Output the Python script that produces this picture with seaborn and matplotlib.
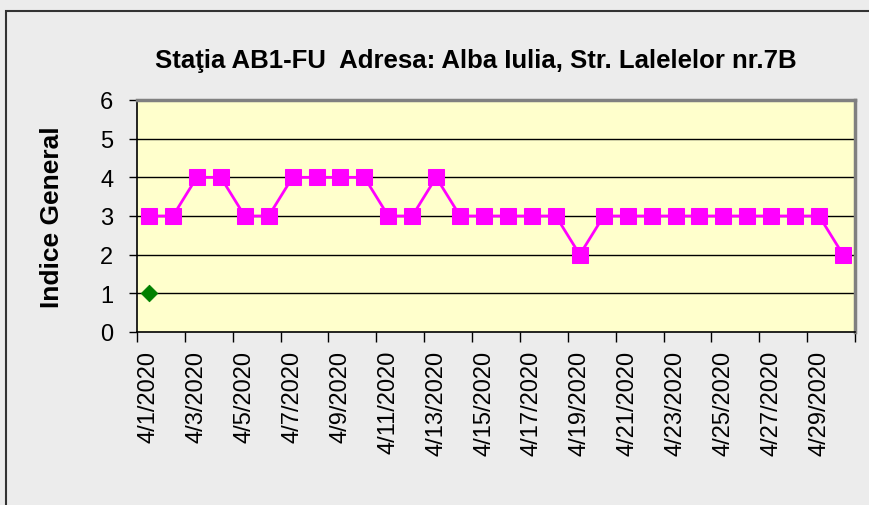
import matplotlib
matplotlib.use("Agg")
import matplotlib.pyplot as plt
import seaborn as sns
import pandas as pd
import numpy as np
from matplotlib.patches import Rectangle

dates = [f"4/{d}/2020" for d in range(1, 31)]
indice_general = [3, 3, 4, 4, 3, 3, 4, 4, 4, 4, 3, 3, 4, 3, 3, 3, 3, 3, 2, 3,
                  3, 3, 3, 3, 3, 3, 3, 3, 3, 2]
second_dates = ["4/1/2020"]
second_values = [1]
title = "Staţia AB1-FU  Adresa: Alba Iulia, Str. Lalelelor nr.7B"
ylabel = "Indice General"
yticks = [0, 1, 2, 3, 4, 5, 6]

sns.set_theme(style="white")
plt.rcParams['font.family'] = ['Liberation Sans', 'DejaVu Sans']
plt.rcParams['text.color'] = 'black'
plt.rcParams['xtick.color'] = 'black'
plt.rcParams['ytick.color'] = 'black'
plt.rcParams['axes.labelcolor'] = 'black'

W, H = 869, 506
fig = plt.figure(figsize=(W / 100, H / 100), dpi=100)
fig.patch.set_facecolor("#ECECEC")
fig.add_artist(Rectangle((6 / W, -0.1), 2, 1.1 - 12 / H, transform=fig.transFigure,
                         fill=False, edgecolor="#333333", linewidth=1.5))

ax = fig.add_axes([137 / W, 1 - 333 / H, (855 - 137) / W, (333 - 101) / H])
ax.set_facecolor("#FFFFCC")

df = pd.DataFrame({"date": pd.Categorical(dates, categories=dates, ordered=True),
                   "value": indice_general})
df2 = pd.DataFrame({"date": pd.Categorical(second_dates, categories=dates, ordered=True),
                    "value": second_values})

sns.lineplot(data=df, x="date", y="value", ax=ax, color="#FF00FF", linewidth=2,
             marker="s", markersize=11.5, markeredgecolor="#FF00FF", sort=False)
sns.scatterplot(data=df2, x="date", y="value", ax=ax, color="#008000", marker="D",
                s=70, edgecolor="#008000", zorder=5)

n = len(dates)
ax.set_xlim(-0.5, n - 0.5)
ax.set_ylim(0, 6)
ax.set_yticks(yticks)
for y in yticks[1:-1]:
    ax.axhline(y, color="black", linewidth=1, zorder=1)

ax.set_xticks(range(0, n, 2))
ax.set_xticklabels(dates[::2], rotation=90, fontsize=17)
ax.set_xticks(np.arange(-0.5, n, 2), minor=True)
ax.tick_params(axis="x", which="major", length=0, pad=13)
ax.tick_params(axis="x", which="minor", length=7, width=1, color="black", bottom=True)
ax.tick_params(axis="y", length=6, width=1, color="black", left=True, labelsize=17, pad=11)

for s in ["left", "bottom"]:
    ax.spines[s].set_color("black")
    ax.spines[s].set_linewidth(1.2)
for s in ["top", "right"]:
    ax.spines[s].set_color("#808080")
    ax.spines[s].set_linewidth(2.5)

ax.set_xlabel("")
ax.set_ylabel(ylabel, fontsize=19, fontweight="bold")
ax.yaxis.set_label_coords(-0.102, 0.5)
fig.text(0.547, 1 - 61 / H, title, ha="center", va="center", fontsize=18.5, fontweight="bold")

fig.savefig("out.png", dpi=100, facecolor=fig.get_facecolor())
